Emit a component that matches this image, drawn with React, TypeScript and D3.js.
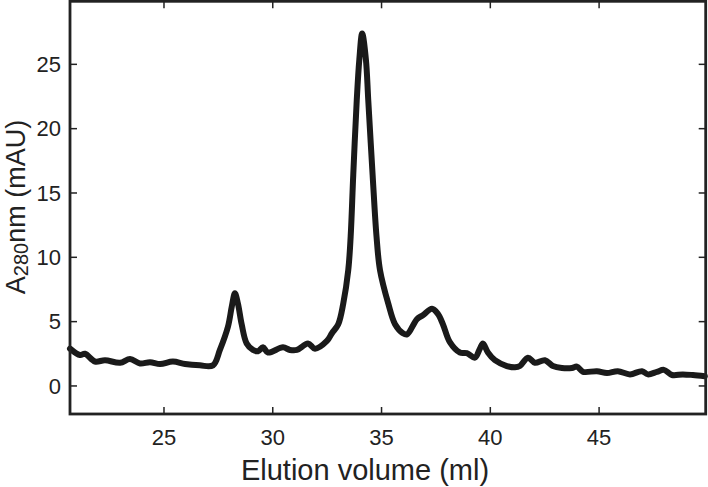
import React from 'react'
import * as d3 from 'd3'

// elution volume (ml) and absorbance A280 (mAU)
const volume = [
  20.68, 21.14, 21.37, 21.83, 22.29, 22.98, 23.44, 23.9, 24.36, 24.82,
  25.41, 25.97, 26.65, 27.25, 27.57, 27.94, 28.12, 28.26, 28.4, 28.57,
  28.8, 29.09, 29.32, 29.55, 29.78, 30.47, 30.79, 31.11, 31.62, 31.94,
  32.49, 32.72, 33.01, 33.24, 33.47, 33.58, 33.7, 33.86, 33.98, 34.11,
  34.28, 34.39, 34.59, 34.77, 34.93, 35.31, 35.62, 35.98, 36.17, 36.63,
  36.9, 37.32, 37.59, 37.82, 38.14, 38.6, 38.92, 39.29, 39.52, 39.66,
  39.89, 40.21, 40.76, 41.13, 41.36, 41.73, 42.05, 42.51, 42.88, 43.29,
  43.75, 43.98, 44.26, 44.9, 45.36, 45.86, 46.42, 46.97, 47.24, 47.66,
  47.98, 48.35, 48.85, 49.31, 49.86
]
const absorbance = [
  2.9, 2.4, 2.5, 1.9, 2.0, 1.8, 2.1, 1.75, 1.85, 1.7,
  1.9, 1.7, 1.6, 1.6, 2.8, 4.6, 6.2, 7.2, 6.4, 4.8,
  3.3, 2.8, 2.7, 3.0, 2.6, 3.0, 2.8, 2.8, 3.3, 2.9,
  3.5, 4.1, 4.8, 6.4, 9.0, 11.6, 16.4, 22.2, 25.4, 27.4,
  25.4, 22.2, 16.4, 11.6, 9.0, 6.4, 4.8, 4.1, 4.0, 5.2,
  5.5, 6.0, 5.6, 4.8, 3.4, 2.6, 2.55, 2.2, 2.9, 3.3,
  2.6, 2.0, 1.55, 1.45, 1.55, 2.2, 1.8, 2.0, 1.55, 1.4,
  1.4, 1.5, 1.1, 1.15, 1.0, 1.15, 0.9, 1.15, 0.9, 1.1,
  1.25, 0.85, 0.9, 0.85, 0.75
]
const xTicks = [25, 30, 35, 40, 45]
const yTicks = [0, 5, 10, 15, 20, 25]

const width = 708,
      height = 487,
      left = 70,
      right = 705.7,
      top = 1.3,
      bottom = 414

const ink = '#222'
const font = '"Liberation Sans", Arial, sans-serif'

export default function App () {
  const xScale = d3.scaleLinear().domain([20.68, 49.9]).range([left, right])
  const yScale = d3.scaleLinear().domain([-2.18, 29.9]).range([bottom, top])

  const points = volume.map((v, i) => [v, absorbance[i]] as [number, number])
  const line = d3.line<[number, number]>()
    .x(d => xScale(d[0]))
    .y(d => yScale(d[1]))
    .curve(d3.curveCatmullRom.alpha(0.5))

  return (
    <svg width={width} height={height}
         style={{ position: 'absolute', left: 0, top: 0, background: '#fff' }}>
      <path d={line(points) || ''} fill='none' stroke='#1a1a1a' strokeWidth={6}
            strokeLinejoin='round' strokeLinecap='round' />

      {/* frame with inward ticks on all four sides */}
      <rect x={left} y={top} width={right - left} height={bottom - top}
            fill='none' stroke={ink} strokeWidth={2.8} />
      {xTicks.map(t => (
        <g key={'x' + t} transform={`translate(${xScale(t)},0)`}>
          <line y1={bottom} y2={bottom - 7} stroke={ink} strokeWidth={1.5} />
          <line y1={top} y2={top + 7} stroke={ink} strokeWidth={1.5} />
          <text y={445} textAnchor='middle' fontFamily={font} fontSize={22} fill={ink}>{t}</text>
        </g>
      ))}
      {yTicks.map(t => (
        <g key={'y' + t} transform={`translate(0,${yScale(t)})`}>
          <line x1={left} x2={left + 7} stroke={ink} strokeWidth={1.5} />
          <line x1={right} x2={right - 7} stroke={ink} strokeWidth={1.5} />
          <text x={61} dy='0.35em' textAnchor='end' fontFamily={font} fontSize={22} fill={ink}>{t}</text>
        </g>
      ))}

      <text x={365} y={480} textAnchor='middle' fontFamily={font} fontSize={29} fill={ink}>
        Elution volume (ml)
      </text>
      <text transform='translate(25,207) rotate(-90)' textAnchor='middle'
            fontFamily={font} fontSize={27} fill={ink}>
        A<tspan fontSize={20} dy={3}>280</tspan><tspan dy={-3}>nm (mAU)</tspan>
      </text>
    </svg>
  )
}
